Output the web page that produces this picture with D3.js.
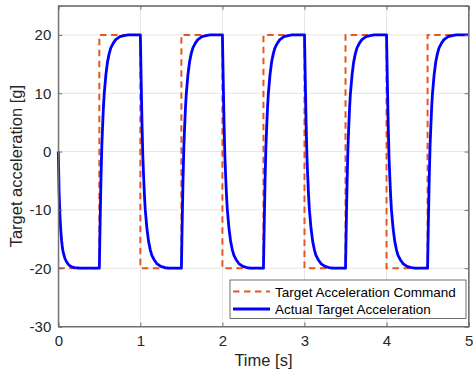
<!DOCTYPE html>
<html><head><meta charset="utf-8">
<script src="https://cdn.jsdelivr.net/npm/d3@7"></script>
<style>body{margin:0;background:#fff}svg{display:block}text{font-family:Arial,"Liberation Sans",Helvetica,sans-serif}</style>
</head><body><svg id="c" width="473" height="380"></svg>
<script>
const xTicks = [0, 1, 2, 3, 4, 5];
const yTicks = [-30, -20, -10, 0, 10, 20];
const seriesNames = ["Target Acceleration Command", "Actual Target Acceleration"];

const cmdTime = [0, 0.5, 0.5, 1, 1, 1.5, 1.5, 2, 2, 2.5, 2.5, 3, 3, 3.5, 3.5, 4, 4, 4.5, 4.5, 5];
const cmdValue = [-20, -20, 20, 20, -20, -20, 20, 20, -20, -20, 20, 20, -20, -20, 20, 20, -20, -20, 20, 20];

const actTime = [
  0,0.01,0.02,0.03,0.04,0.05,0.06,0.08,0.10,0.12,0.14,0.17,0.20,0.25,0.30,0.35,
  0.5,0.51,0.52,0.53,0.54,0.55,0.56,0.58,0.60,0.62,0.64,0.67,0.70,0.75,0.80,0.85,
  1.0,1.01,1.02,1.03,1.04,1.05,1.06,1.08,1.10,1.12,1.14,1.17,1.20,1.25,1.30,1.35,
  1.5,1.51,1.52,1.53,1.54,1.55,1.56,1.58,1.60,1.62,1.64,1.67,1.70,1.75,1.80,1.85,
  2.0,2.01,2.02,2.03,2.04,2.05,2.06,2.08,2.10,2.12,2.14,2.17,2.20,2.25,2.30,2.35,
  2.5,2.51,2.52,2.53,2.54,2.55,2.56,2.58,2.60,2.62,2.64,2.67,2.70,2.75,2.80,2.85,
  3.0,3.01,3.02,3.03,3.04,3.05,3.06,3.08,3.10,3.12,3.14,3.17,3.20,3.25,3.30,3.35,
  3.5,3.51,3.52,3.53,3.54,3.55,3.56,3.58,3.60,3.62,3.64,3.67,3.70,3.75,3.80,3.85,
  4.0,4.01,4.02,4.03,4.04,4.05,4.06,4.08,4.10,4.12,4.14,4.17,4.20,4.25,4.30,4.35,
  4.5,4.51,4.52,4.53,4.54,4.55,4.56,4.58,4.60,4.62,4.64,4.67,4.70,4.75,4.80,4.85,
  5.0
];
const actValue = [
  0,-7,-11,-13.5,-15.2,-16.5,-17.3,-18.3,-18.9,-19.3,-19.6,-19.8,-19.9,-19.97,-20,-20,
  -20,-12,-4.8,0.8,4.4,7.6,10,13.2,15.4,16.8,17.8,18.6,19.2,19.7,19.9,20,
  20,12,4.8,-0.8,-4.4,-7.6,-10,-13.2,-15.4,-16.8,-17.8,-18.6,-19.2,-19.7,-19.9,-20,
  -20,-12,-4.8,0.8,4.4,7.6,10,13.2,15.4,16.8,17.8,18.6,19.2,19.7,19.9,20,
  20,12,4.8,-0.8,-4.4,-7.6,-10,-13.2,-15.4,-16.8,-17.8,-18.6,-19.2,-19.7,-19.9,-20,
  -20,-12,-4.8,0.8,4.4,7.6,10,13.2,15.4,16.8,17.8,18.6,19.2,19.7,19.9,20,
  20,12,4.8,-0.8,-4.4,-7.6,-10,-13.2,-15.4,-16.8,-17.8,-18.6,-19.2,-19.7,-19.9,-20,
  -20,-12,-4.8,0.8,4.4,7.6,10,13.2,15.4,16.8,17.8,18.6,19.2,19.7,19.9,20,
  20,12,4.8,-0.8,-4.4,-7.6,-10,-13.2,-15.4,-16.8,-17.8,-18.6,-19.2,-19.7,-19.9,-20,
  -20,-12,-4.8,0.8,4.4,7.6,10,13.2,15.4,16.8,17.8,18.6,19.2,19.7,19.9,20,
  20
];

const svg = d3.select("#c");
const L = 58.3, R = 468.6, T = 5.8, B = 326.5;
const x = d3.scaleLinear().domain([0, 5]).range([L, R]);
const y = d3.scaleLinear().domain([-30, 25]).range([B, T]);

// grid
const g = svg.append("g");
g.selectAll(".gx").data(xTicks).enter().append("line")
  .attr("x1", d => x(d)).attr("x2", d => x(d)).attr("y1", T).attr("y2", B)
  .attr("stroke", "#e6e6e6").attr("stroke-width", 1);
g.selectAll(".gy").data(yTicks).enter().append("line")
  .attr("y1", d => y(d)).attr("y2", d => y(d)).attr("x1", L).attr("x2", R)
  .attr("stroke", "#e6e6e6").attr("stroke-width", 1);

// data lines
const cmdData = cmdTime.map((t, i) => [t, cmdValue[i]]);
const actData = actTime.map((t, i) => [t, actValue[i]]);
const line = d3.line().x(d => x(d[0])).y(d => y(d[1]));
svg.append("path").datum(cmdData).attr("d", line).attr("fill", "none")
  .attr("stroke", "#E5581F").attr("stroke-width", 2).attr("stroke-dasharray", "6.5,4.5");
svg.append("path").datum(actData).attr("d", line).attr("fill", "none")
  .attr("stroke", "#0000FF").attr("stroke-width", 2.8).attr("stroke-linejoin", "round");

// axes
const axColor = "#6e6e6e";
const fmt = d => String(d);
const xAxis = svg.append("g").attr("transform", `translate(0,${B})`)
  .call(d3.axisBottom(x).tickValues(xTicks).tickSize(-4).tickPadding(9).tickFormat(fmt));
const xAxisTop = svg.append("g").attr("transform", `translate(0,${T})`)
  .call(d3.axisTop(x).tickValues(xTicks).tickSize(-4).tickFormat(""));
const yAxis = svg.append("g").attr("transform", `translate(${L},0)`)
  .call(d3.axisLeft(y).tickValues(yTicks).tickSize(-4).tickPadding(7).tickFormat(fmt));
const yAxisR = svg.append("g").attr("transform", `translate(${R},0)`)
  .call(d3.axisRight(y).tickValues(yTicks).tickSize(-4).tickFormat(""));
[xAxis, xAxisTop, yAxis, yAxisR].forEach(a => {
  a.select(".domain").attr("stroke", axColor).attr("stroke-width", 1);
  a.selectAll(".tick line").attr("stroke", axColor);
  a.selectAll(".tick text").attr("fill", "#262626").attr("font-size", 15)
    .attr("font-family", "Arial, 'Liberation Sans', sans-serif");
});
svg.append("rect").attr("x", L).attr("y", T).attr("width", R - L).attr("height", B - T)
  .attr("fill", "none").attr("stroke", axColor).attr("stroke-width", 1);

// axis labels
svg.append("text").attr("x", (L + R) / 2).attr("y", 366).attr("text-anchor", "middle")
  .attr("font-size", 16.5).attr("fill", "#262626").text("Time [s]");
svg.append("text").attr("transform", `translate(22,${(T + B) / 2}) rotate(-90)`)
  .attr("text-anchor", "middle").attr("font-size", 16.5).attr("fill", "#262626")
  .text("Target acceleration [g]");

// legend
const lg = svg.append("g");
lg.append("rect").attr("x", 230).attr("y", 280).attr("width", 236).attr("height", 38.5)
  .attr("fill", "#fff").attr("stroke", "#4d4d4d").attr("stroke-width", 0.8);
const legendStyles = [
  {stroke: "#E5581F", w: 2, dash: "6.5,4.5"},
  {stroke: "#0000FF", w: 2.8, dash: null}
];
seriesNames.forEach((name, i) => {
  const cy = 291.5 + i * 17.5;
  lg.append("line").attr("x1", 233).attr("x2", 270).attr("y1", cy).attr("y2", cy)
    .attr("stroke", legendStyles[i].stroke).attr("stroke-width", legendStyles[i].w)
    .attr("stroke-dasharray", legendStyles[i].dash);
  lg.append("text").attr("x", 275).attr("y", cy + 5).attr("font-size", 13.5)
    .attr("fill", "#000").text(name);
});
</script></body></html>
